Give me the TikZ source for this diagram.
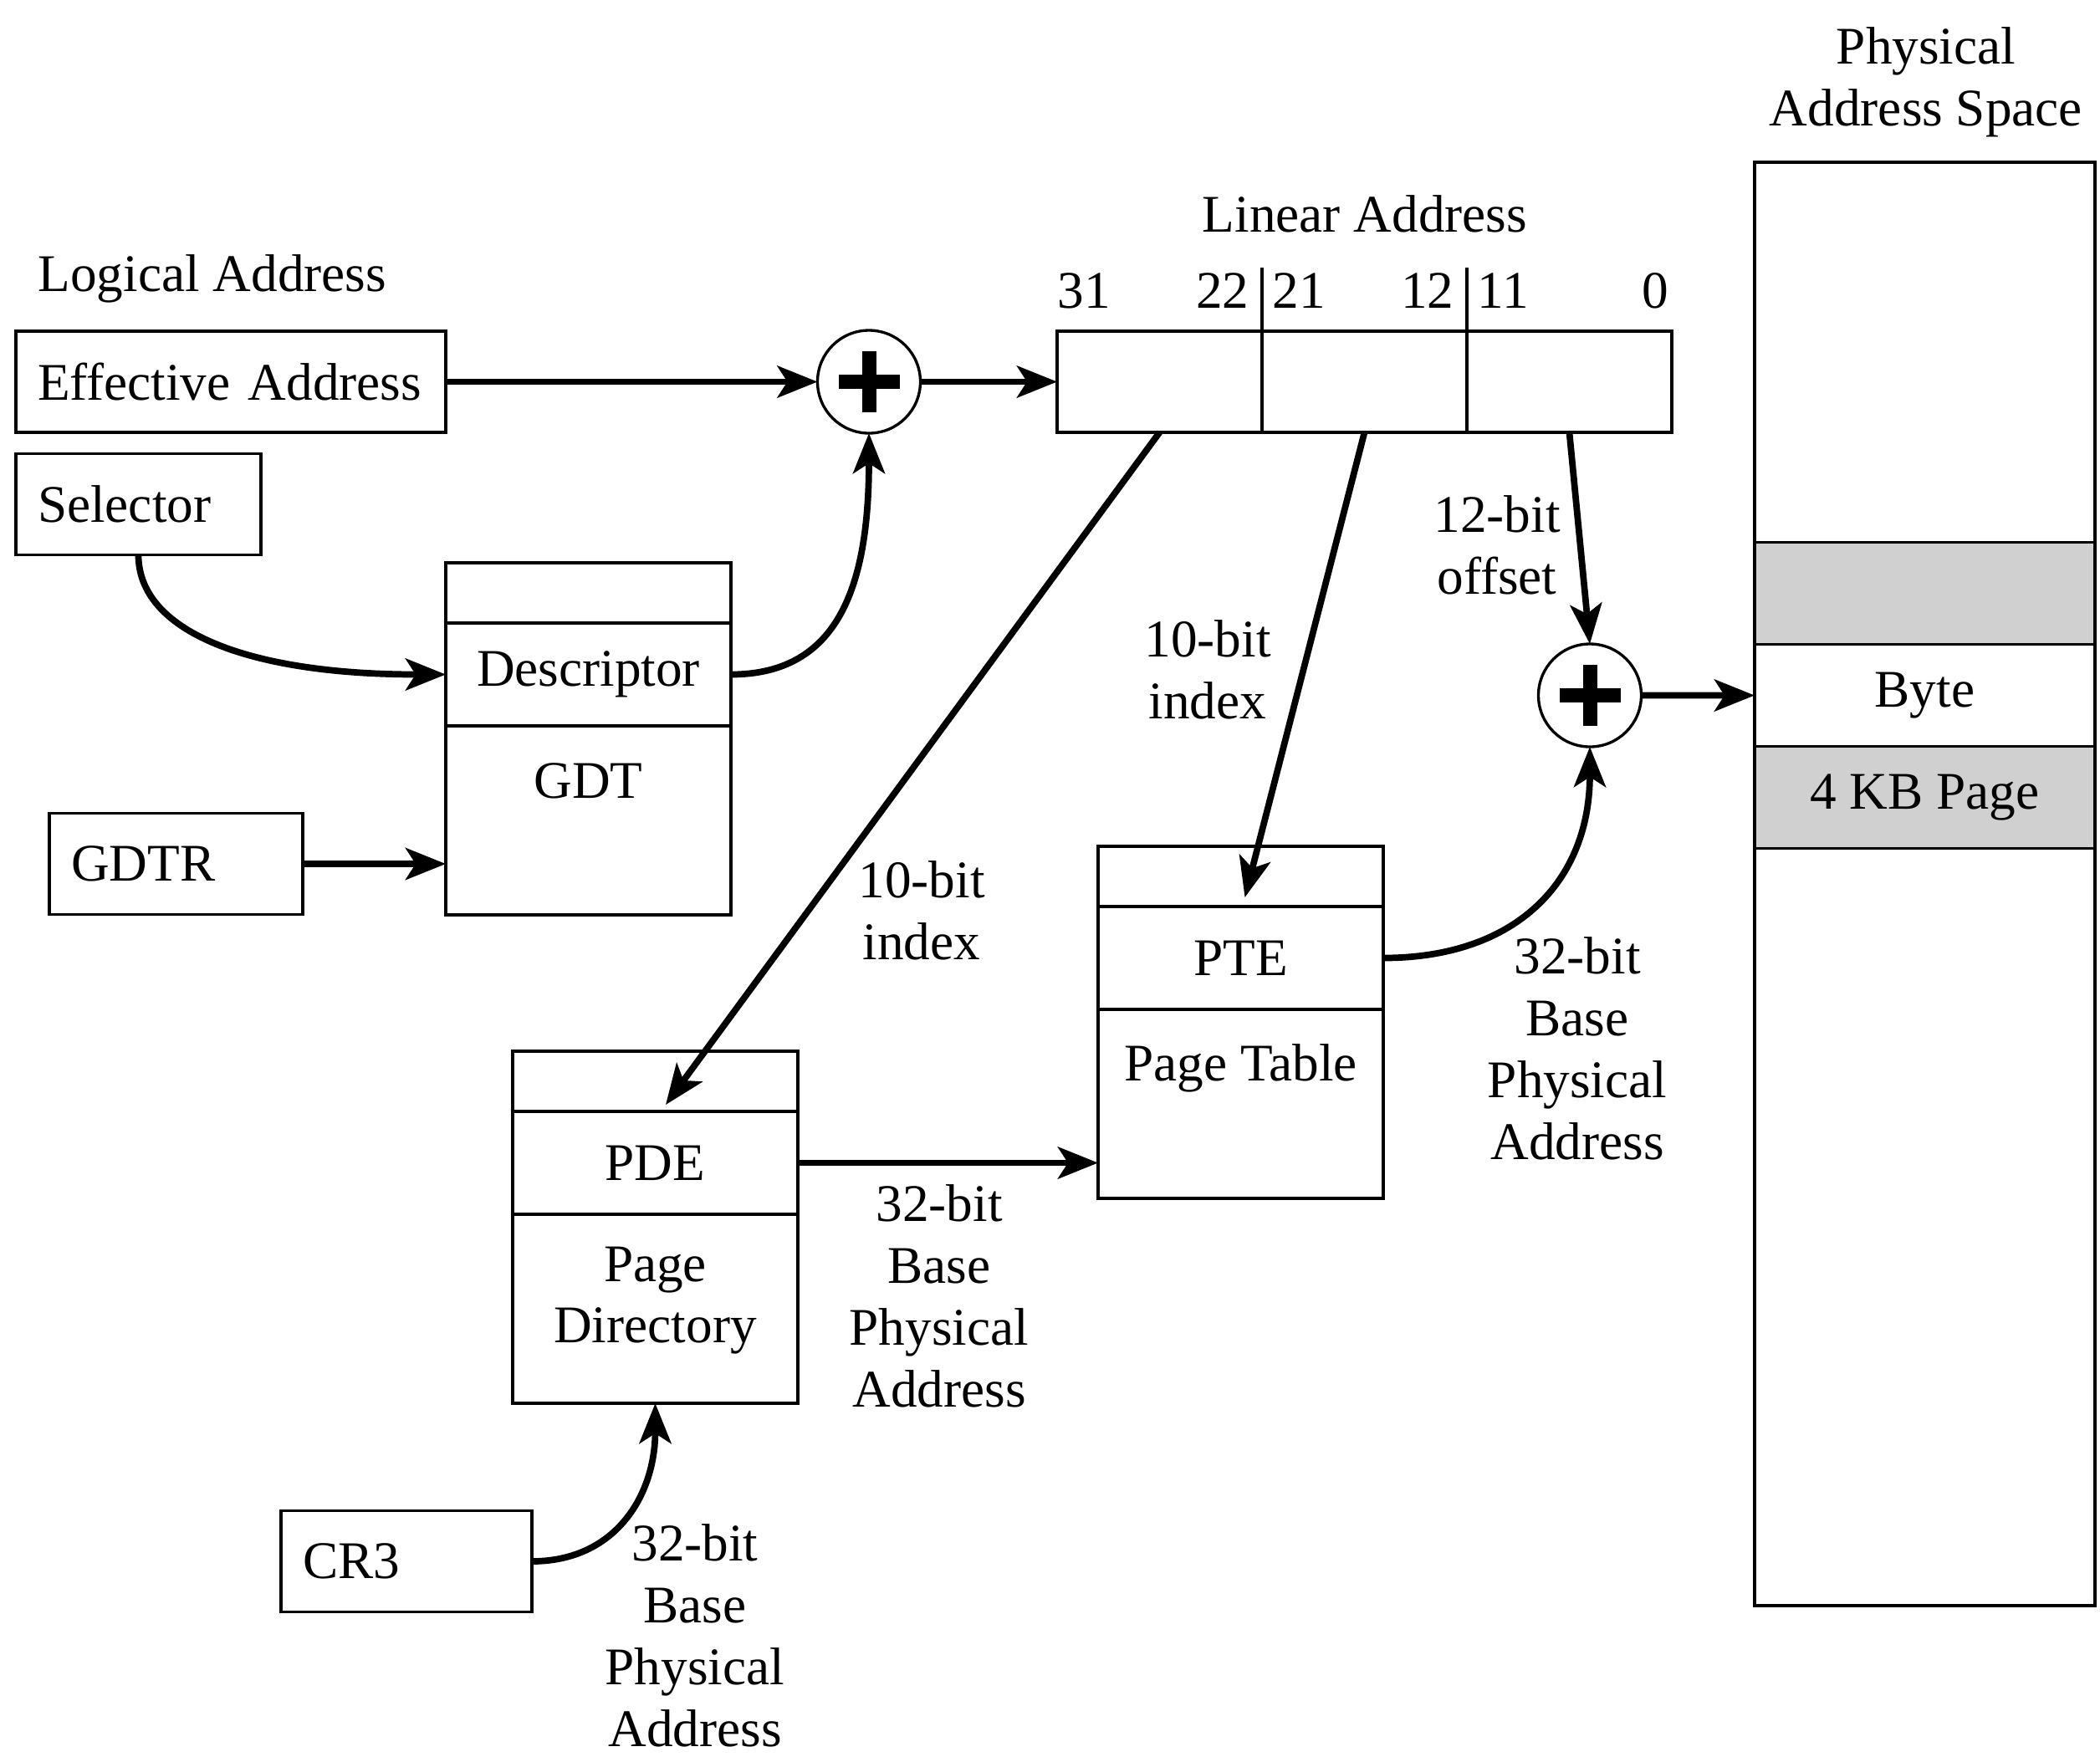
\documentclass[tikz,border=0pt]{standalone}
\usepackage{fontspec}
\setmainfont{Liberation Serif}
\usetikzlibrary{arrows.meta,positioning}
\definecolor{pagegray}{RGB}{208,208,208}
\tikzset{
  >={Stealth[length=4.8mm,width=3.8mm,inset=1.2mm]},
  adder/.style={box,circle,minimum size=1.23cm,inner sep=0pt,
    path picture={
      \fill (path picture bounding box.center) +(-3.65mm,-0.85mm) rectangle +(3.65mm,0.85mm);
      \fill (path picture bounding box.center) +(-0.85mm,-3.65mm) rectangle +(0.85mm,3.65mm);
    }},
}
\tikzstyle{every node}=[font=\fontsize{18}{21}\selectfont]
\tikzstyle{box}=[draw,line width=0.95pt,outer sep=0pt]
\tikzstyle{reg}=[box,minimum height=1.21cm,inner xsep=2.6mm,align=left,anchor=west]
\tikzstyle{slot}=[box,minimum width=3.41cm,minimum height=0.72cm]
\tikzstyle{entry}=[box,minimum width=3.41cm,minimum height=1.23cm]
\tikzstyle{tablebody}=[box,minimum width=3.41cm,minimum height=2.26cm]
\tikzstyle{field}=[box,minimum width=2.45cm,minimum height=1.21cm]
\tikzstyle{band}=[box,minimum width=4.07cm,minimum height=1.22cm]
\tikzstyle{bit}=[inner sep=0pt]
\tikzstyle{note}=[align=center]
\tikzstyle{link}=[line width=2.2pt,->]

\begin{document}
\begin{tikzpicture}
  \useasboundingbox (0,0) rectangle (25.11,-21);
  \node[anchor=west,inner sep=0pt] (logical) at (0.45,-3.33) {Logical Address};
  \node[reg,text width=4.62cm] (eff) at (0.19,-4.565) {Effective Address};
  \node[reg,text width=2.41cm] (sel) at (0.19,-6.03) {Selector};
  \node[reg,text width=2.51cm] (gdtr) at (0.59,-10.33) {GDTR};
  \node[reg,text width=2.48cm] (cr3) at (3.36,-18.67) {CR3};

  \node[slot] (gdttop) at (7.035,-7.09) {};
  \node[entry,below=0pt of gdttop] (desc) {Descriptor};
  \node[tablebody,below=0pt of desc] (gdt) {};
  \node (gdtname) at ([yshift=-6.6mm]gdt.north) {GDT};

  \node[slot] (pdtop) at (7.835,-12.93) {};
  \node[entry,below=0pt of pdtop] (pde) {PDE};
  \node[tablebody,below=0pt of pde] (pd) {};
  \node[note] (pdname) at ([yshift=-10.3mm]pd.north) {Page\\Directory};

  \node[slot] (pttop) at (14.835,-10.48) {};
  \node[entry,below=0pt of pttop] (pte) {PTE};
  \node[tablebody,below=0pt of pte] (pt) {};
  \node (ptname) at ([yshift=-7mm]pt.north) {Page Table};

  \node[field] (f1) at (13.865,-4.565) {};
  \node[field,right=0pt of f1] (f2) {};
  \node[field,right=0pt of f2] (f3) {};
  \draw[line width=0.95pt] (f1.north east) -- ++(0,0.76) (f2.north east) -- ++(0,0.76);
  \node (linear) at (16.32,-2.56) {Linear Address};
  \node[bit,anchor=base west] (b31) at ([yshift=2.8mm]f1.north west) {31};
  \node[bit,anchor=base east] (b22) at ([xshift=-1.5mm,yshift=2.8mm]f1.north east) {22};
  \node[bit,anchor=base west] (b21) at ([xshift=1.2mm,yshift=2.8mm]f2.north west) {21};
  \node[bit,anchor=base east] (b12) at ([xshift=-1.5mm,yshift=2.8mm]f2.north east) {12};
  \node[bit,anchor=base west] (b11) at ([xshift=1.2mm,yshift=2.8mm]f3.north west) {11};
  \node[bit,anchor=base east] (b0) at ([xshift=-0.3mm,yshift=2.8mm]f3.north east) {0};

  \node[adder] (add1) at (10.39,-4.565) {};
  \node[adder] (add2) at (19.01,-8.315) {};

  \node[box,minimum width=4.07cm,minimum height=17.26cm] (phys) at (23.015,-10.57) {};
  \node[note] (physname) at (23.03,-0.985) {Physical\\Address Space};
  \node[band,fill=pagegray] (frame) at (23.015,-7.095) {};
  \node[band,below=0pt of frame] (byte) {Byte};
  \node[band,fill=pagegray,below=0pt of byte] (page) {4 KB Page};

  \draw[link] (eff.east) -- (add1.west);
  \draw[link] (add1.east) -- (add1 -| f1.west);
  \draw[link] (sel.south) .. controls +(0,-0.9) and +(-2.4,0) .. (desc.west);
  \draw[link] (desc.east) .. controls +(1.3,0) and +(0,-1.8) .. (add1.south);
  \draw[link] (gdtr.east) -- (gdtr.east -| gdt.west);
  \draw[link] (f1.south) -- ([xshift=1.25mm,yshift=0.8mm]pdtop.south);
  \draw[link] (f2.south) -- ([xshift=0.5mm,yshift=1.1mm]pttop.south);
  \draw[link] (f3.south) -- (add2.north);
  \draw[link] (pde.east) -- (pde.east -| pt.west);
  \draw[link] (pte.east) .. controls +(1.6,0) and +(0,-1.6) .. (add2.south);
  \draw[link] (cr3.east) .. controls +(1.0,0) and +(0,-1.1) .. (pd.south);
  \draw[link] (add2.east) -- (byte.west);

  \node[note] (idx1) at (11.02,-10.89) {10-bit\\index};
  \node[note] (idx2) at (14.44,-8.01) {10-bit\\index};
  \node[note] (off) at (17.90,-6.52) {12-bit\\offset};
  \node[note] (ptbase) at (18.86,-12.54) {32-bit\\Base\\Physical\\Address};
  \node[note] (pdbase) at (11.23,-15.50) {32-bit\\Base\\Physical\\Address};
  \node[note] (crbase) at (8.31,-19.56) {32-bit\\Base\\Physical\\Address};
\end{tikzpicture}
\end{document}
